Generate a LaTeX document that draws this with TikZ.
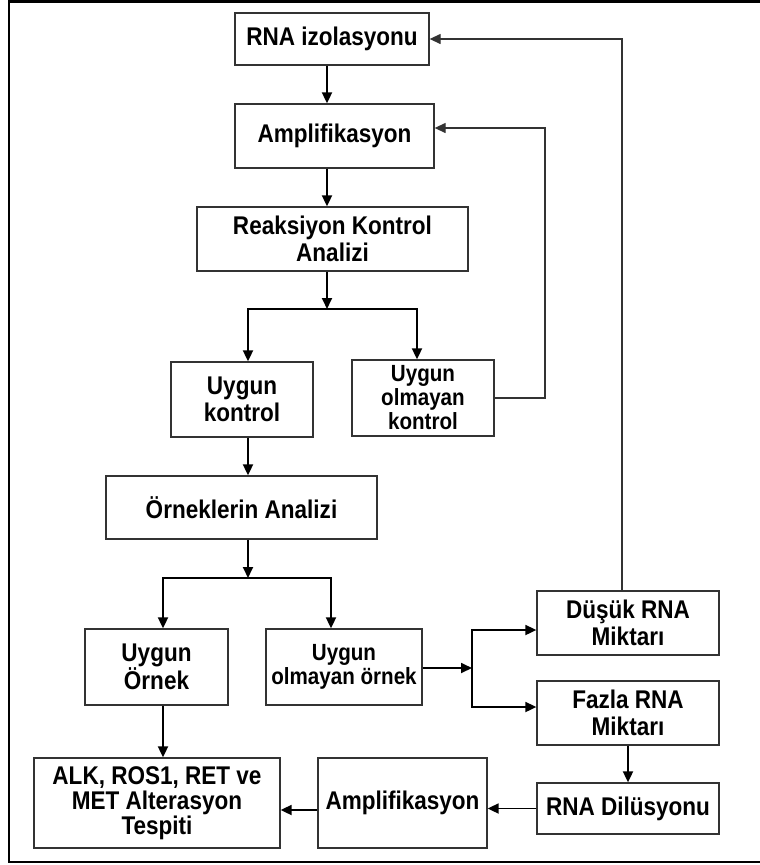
\documentclass[tikz,border=0pt]{standalone}
\usepackage{fontspec}
\setmainfont{Liberation Sans}[FakeStretch=0.88]
\usetikzlibrary{arrows.meta}

\begin{document}
\begin{tikzpicture}[x=1pt,y=-1pt,
    kutu/.style={draw=black!80,line width=1.3pt,align=center,inner sep=0pt,
      font=\bfseries\fontsize{25.6}{27}\selectfont},
    sik/.style={font=\bfseries\fontsize{25.6}{25}\selectfont},
    dar/.style={font=\bfseries\fontsize{23.4}{24}\selectfont},
    ok/.style={line width=1.8pt,-{Triangle[length=11pt,width=10pt]}},
    geri/.style={draw=black!80,line width=1.3pt,-{Triangle[length=11pt,width=10pt]}}]

  \useasboundingbox (0,0) rectangle (760,865);
  \draw[line width=2.6pt] (760,1.5) -- (9,1.5) -- (9,862) -- (760,862);

  % kutular
  \node[kutu,minimum width=194pt,minimum height=52pt] (rna) at (332,39) {RNA izolasyonu};
  \node[kutu,minimum width=199pt,minimum height=64pt] (amp) at (334.5,136) {Amplifikasyon};
  \node[kutu,minimum width=271pt,minimum height=64pt] (reak) at (332.5,239) {Reaksiyon Kontrol\\Analizi};
  \node[kutu,minimum width=142pt,minimum height=75pt] (ukon) at (242,399.5) {Uygun\\kontrol};
  \node[kutu,dar,minimum width=142pt,minimum height=76pt] (uokon) at (423,398) {Uygun\\olmayan\\kontrol};
  \node[kutu,minimum width=271pt,minimum height=63pt] (orn) at (241.5,507.5) {Örneklerin Analizi};
  \node[kutu,minimum width=143pt,minimum height=76pt] (uorn) at (156.5,667) {Uygun\\Örnek};
  \node[kutu,dar,minimum width=156pt,minimum height=76pt] (uoorn) at (344,667) {Uygun\\olmayan örnek};
  \node[kutu,minimum width=182pt,minimum height=64pt] (dusuk) at (628,623) {Düşük RNA\\Miktarı};
  \node[kutu,minimum width=182pt,minimum height=64pt] (fazla) at (628,713) {Fazla RNA\\Miktarı};
  \node[kutu,minimum width=182pt,minimum height=51pt] (dil) at (628,808.5) {RNA Dilüsyonu};
  \node[kutu,minimum width=169pt,minimum height=90pt] (amp2) at (402.5,803) {Amplifikasyon};
  \node[kutu,sik,minimum width=246pt,minimum height=90pt] (alk) at (157,803) {ALK, ROS1, RET ve\\MET Alterasyon\\Tespiti};

  % ayrim noktalari
  \coordinate (ayrim1) at (327,309);
  \coordinate (ayrim2) at (248,578);
  \coordinate (catal) at (472,668);
  \coordinate (donus1) at (545,128);
  \coordinate (donus2) at (622,39);

  % oklar
  \draw[ok] (rna.south -| ayrim1) -- (amp.north -| ayrim1);
  \draw[ok] (amp.south -| ayrim1) -- (reak.north -| ayrim1);
  \draw[ok] (reak.south -| ayrim1) -- (ayrim1);
  \draw[ok] (ayrim1) -| (ukon.north -| ayrim2);
  \draw[ok] (ayrim1) -| ([xshift=-6pt]uokon.north);
  \draw[ok] (ukon.south -| ayrim2) -- (orn.north -| ayrim2);
  \draw[ok] (orn.south -| ayrim2) -- (ayrim2);
  \draw[ok] (ayrim2) -| ([xshift=6.5pt]uorn.north);
  \draw[ok] (ayrim2) -| ([xshift=-13pt]uoorn.north);
  \draw[ok] ([xshift=6.5pt]uorn.south) -- ([xshift=6.5pt]uorn.south |- alk.north);
  \draw[ok] (uoorn.east |- catal) -- (catal);
  \draw[ok] (catal) |- ([yshift=-7pt]dusuk.west);
  \draw[ok] (catal) |- ([yshift=6pt]fazla.west);
  \draw[ok] (fazla.south) -- (dil.north);
  \draw[ok] (dil.west) -- (dil.west -| amp2.east);
  \draw[ok] ([yshift=-7pt]amp2.west) -- ([yshift=-7pt]amp2.west -| alk.east);

  % geri donusler
  \draw[geri] (uokon.east) -| (donus1) -- (donus1 -| amp.east);
  \draw[geri] (dusuk.north -| donus2) -- (donus2) -- (rna.east);
\end{tikzpicture}
\end{document}
